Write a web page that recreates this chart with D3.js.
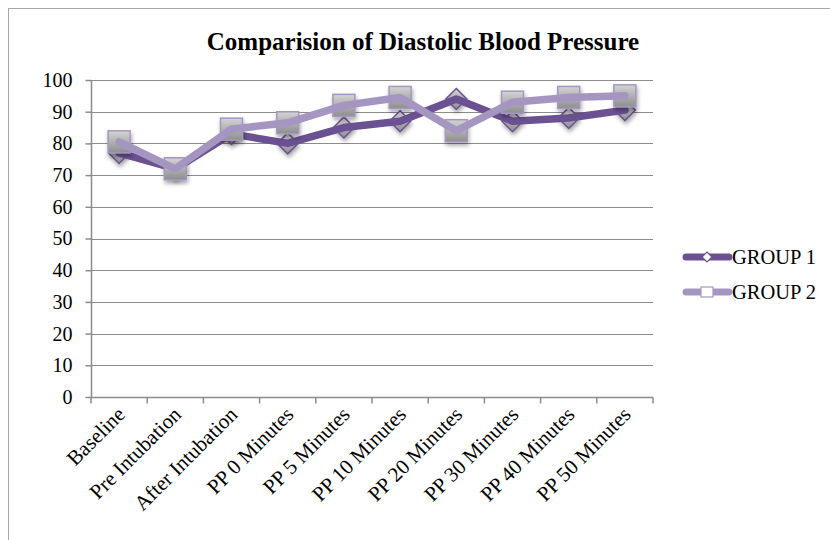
<!DOCTYPE html>
<html><head><meta charset="utf-8">
<script src="https://cdn.jsdelivr.net/npm/d3@7"></script>
<style>body{margin:0;background:#fff}svg{display:block}text{font-family:"Liberation Serif","Times New Roman",serif;fill:#000}</style>
</head><body>
<svg id="c" width="830" height="540"></svg>
<script>
const categories = ["Baseline","Pre Intubation","After Intubation","PP 0 Minutes","PP 5 Minutes","PP 10 Minutes","PP 20 Minutes","PP 30 Minutes","PP 40 Minutes","PP 50 Minutes"];
const group1 = [77, 72, 83, 80, 85, 87, 94, 87, 88, 90.5];
const group2 = [80.5, 72, 84.5, 86.5, 92, 94.5, 84, 93, 94.5, 95];
const yTicks = [0,10,20,30,40,50,60,70,80,90,100];
const seriesNames = ["GROUP 1","GROUP 2"];

const svg = d3.select("#c");
const defs = svg.append("defs");
const grad = defs.append("linearGradient").attr("id","mg").attr("x1",0).attr("y1",0).attr("x2",0).attr("y2",1);
grad.append("stop").attr("offset","0%").attr("stop-color","#d4d4d4");
grad.append("stop").attr("offset","100%").attr("stop-color","#8e8e8e");
const f = defs.append("filter").attr("id","sh").attr("x","-50%").attr("y","-50%").attr("width","200%").attr("height","200%");
f.append("feDropShadow").attr("dx",1).attr("dy",3).attr("stdDeviation",2).attr("flood-color","#000").attr("flood-opacity",0.35);

// frame
svg.append("rect").attr("x",8.5).attr("y",8.5).attr("width",900).attr("height",600).attr("fill","none").attr("stroke","#a6a6a6").attr("stroke-width",1);

const L = 91, R = 653, T = 80, B = 397;
const x = d3.scaleBand().domain(categories).range([L,R]);
const y = d3.scaleLinear().domain([0,100]).range([B,T]);

svg.append("text").attr("x",423).attr("y",50).attr("text-anchor","middle").attr("font-weight","bold").style("font-size","25px").text("Comparision of Diastolic Blood Pressure");

// gridlines
svg.append("g").selectAll("line").data(yTicks.filter(d=>d>0)).join("line")
  .attr("x1",L).attr("x2",R).attr("y1",d=>Math.round(y(d))+0.5).attr("y2",d=>Math.round(y(d))+0.5)
  .attr("stroke","#8c8c8c").attr("stroke-width",1.2);

// y axis
const ya = svg.append("g").attr("transform",`translate(${L+0.5},0)`).call(d3.axisLeft(y).tickValues(yTicks).tickSize(6).tickPadding(13).tickFormat(d3.format("d")));
ya.selectAll("path,line").attr("stroke","#8c8c8c").attr("stroke-width",1.5);
ya.select(".domain").attr("d",`M0,${T}V${B}`);
ya.selectAll("text").style("font-size","20px").style("font-family","'Liberation Serif', serif").attr("fill","#000");

// x axis
const xa = svg.append("g").attr("transform",`translate(0,${B+0.5})`);
xa.append("line").attr("x1",L).attr("x2",R).attr("stroke","#8c8c8c").attr("stroke-width",1.5);
const bounds = categories.map((c)=>x(c)).concat([x(categories[categories.length-1])+x.bandwidth()]);
xa.selectAll("line.t").data(bounds).join("line").attr("class","t")
  .attr("x1",d=>d).attr("x2",d=>d).attr("y1",0).attr("y2",6).attr("stroke","#8c8c8c").attr("stroke-width",1.5);
xa.selectAll("text").data(categories).join("text")
  .attr("transform",d=>`translate(${x(d)+x.bandwidth()/2+2},${13}) rotate(-45)`)
  .attr("text-anchor","end").attr("dy","0.35em").style("font-size","21px").text(d=>d);

const c1 = "#6b5192", c2 = "#a596c1";
const cx = d => x(d)+x.bandwidth()/2;
const line = d3.line().x((d,i)=>cx(categories[i])).y(d=>y(d));

function diamond(g, px, py, s){
  g.append("path").attr("d",`M${px},${py-s}L${px+s},${py}L${px},${py+s}L${px-s},${py}Z`);
}
// group1 markers
const m1 = svg.append("g").attr("filter","url(#sh)").attr("fill","url(#mg)").attr("stroke",c1).attr("stroke-width",1.5);
group1.forEach((v,i)=>diamond(m1, cx(categories[i]), y(v), 10.5));
svg.append("path").datum(group1).attr("d",line).attr("fill","none").attr("stroke",c1).attr("stroke-width",7.5).attr("stroke-linejoin","round").attr("stroke-linecap","round");
// group2 markers
const m2 = svg.append("g").attr("filter","url(#sh)").attr("fill","url(#mg)").attr("stroke",c2).attr("stroke-width",1.5);
group2.forEach((v,i)=>m2.append("rect").attr("x",cx(categories[i])-11).attr("y",y(v)-11).attr("width",22).attr("height",22));
svg.append("path").datum(group2).attr("d",line).attr("fill","none").attr("stroke",c2).attr("stroke-width",7.5).attr("stroke-linejoin","round").attr("stroke-linecap","round");

// legend
const leg = svg.append("g");
[[c1,257],[c2,292]].forEach(([col,ly],i)=>{
  leg.append("line").attr("x1",686).attr("x2",729).attr("y1",ly).attr("y2",ly).attr("stroke",col).attr("stroke-width",7).attr("stroke-linecap","round");
  const mk = leg.append("g").attr("stroke",col).attr("stroke-width",1.2);
  if(i===0){ mk.append("path").attr("d",`M707,${ly-5}L712,${ly}L707,${ly+5}L702,${ly}Z`).attr("fill","#fff"); }
  else { mk.append("rect").attr("x",701).attr("y",ly-5).attr("width",12).attr("height",10).attr("fill","#fff"); }
  leg.append("text").attr("x",732).attr("y",ly+7).style("font-size","20.5px").text(seriesNames[i]);
});
</script>
</body></html>
